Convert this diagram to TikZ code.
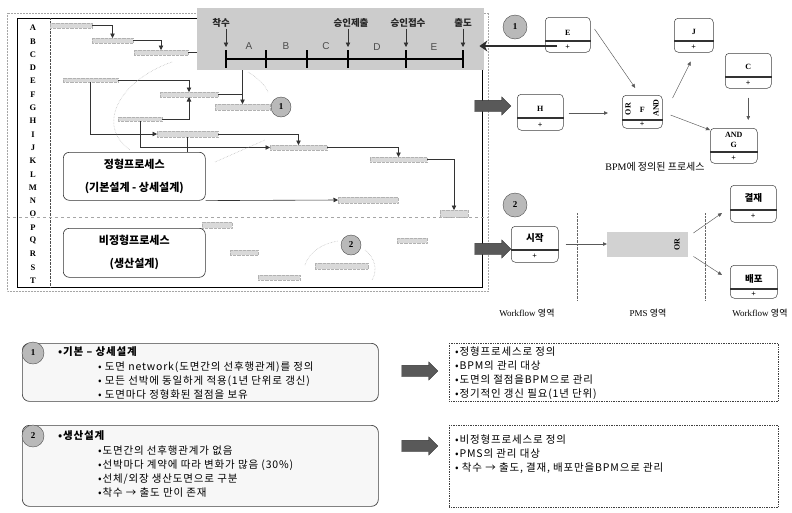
\documentclass[tikz,border=0pt]{standalone}
\usepackage{fontspec}
\setmainfont{Liberation Serif}
\newfontfamily\kr{Noto Sans CJK KR}
\newfontfamily\krw[LetterSpace=8]{Noto Sans CJK KR}
\newfontfamily\lsans{Liberation Sans}
\usetikzlibrary{arrows.meta,shapes.arrows,shapes.geometric}
\newcommand\gbar[5]{\node[bar, minimum width={#4-#2}, minimum height={#5-#3}] (#1) at (#2,#3) {};}
\newcommand\bpm[6]{%
  \node[bbox, minimum width={#4-#2}, minimum height={#5-#3}] (#1) at (#2,#3) {};
  \draw[divl] (#1.west |- 0,#6) -- (#1.east |- 0,#6);}
\begin{document}
\begin{tikzpicture}[x=1pt,y=-1pt,
  bar/.style={fill=gray!30, draw=gray!60, densely dotted, line width=0.3pt, inner sep=0pt, outer sep=0pt, anchor=north west},
  conn/.style={draw=black!80, line width=0.6pt, -{Triangle[length=4.5pt,width=4.5pt]}},
  plain/.style={draw=black!80, line width=0.6pt},
  letter/.style={font=\bfseries\fontsize{8.5}{8.5}\selectfont},
  tlab/.style={font=\kr\bfseries\fontsize{9.5}{10}\selectfont, inner sep=1pt, text=black!85},
  seg/.style={font=\lsans\fontsize{10}{10}\selectfont, text=black!70},
  bbox/.style={draw=black!75, line width=0.5pt, rounded corners=4pt, anchor=north west, inner sep=0pt, fill=white},
  divl/.style={line width=1.1pt, black!80},
  blab/.style={font=\bfseries\fontsize{8}{8}\selectfont, inner sep=0.5pt},
  klab/.style={font=\kr\bfseries\fontsize{9.5}{9.5}\selectfont, inner sep=0.5pt},
  circ/.style={circle, draw=black!70, fill=gray!55, inner sep=0pt, font=\bfseries\fontsize{9}{9}\selectfont},
  thinarr/.style={draw=black!65, line width=0.45pt, -{Triangle[length=4pt,width=3.5pt]}},
  thickarr/.style={draw=gray!35!black, line width=2.4pt, -{Stealth[length=8pt,width=11pt]}},
  blockarr/.style={single arrow, fill=gray!70!black, draw=black!80, line width=0.3pt, inner sep=5.5pt, single arrow head extend=3.5pt, minimum height=36pt},
  pbox/.style={draw=black!80, line width=0.6pt, rounded corners=6pt, anchor=north west, align=center, inner sep=0pt, font=\kr\bfseries\fontsize{11}{23}\selectfont},
  note/.style={font=\krw\fontsize{10.5}{11}\selectfont, anchor=west, inner sep=0pt},
  noteb/.style={font=\krw\bfseries\fontsize{10.5}{11}\selectfont, anchor=west, inner sep=0pt},
  area/.style={font=\fontsize{9}{9}\selectfont}
]
\useasboundingbox (0,0) rectangle (792,512);
\fill[white] (0,0) rectangle (792,512);

% ---------- left panel frames ----------
\draw[densely dotted, gray!70, line width=0.5pt] (7,13) rectangle (488,291);
\node[fill=gray!40, anchor=north west, minimum width=287, minimum height=62, inner sep=0pt] (tl) at (197,8) {};
\draw[line width=0.6pt] (197,18) -- (17,18) -- (17,287) -- (482,287) -- (482,70);
\draw[densely dotted, black!70] (50,18) -- (50,287);
\draw[dashed, gray!70] (7,217) -- (488,217);

\foreach \l [count=\i from 0] in {A,B,C,D,E,F,G,H,I,J,K,L,M,N,O,P,Q,R,S,T}
  \node[letter] (L\l) at (33,28+\i*13.3) {\l};

% ---------- timeline ----------
\foreach \n/\x in {0/226,1/266,2/307,3/348,4/406,5/463}{
  \coordinate (t\n) at (\x,59);
  \draw[line width=1.1pt] (\x,50) -- (\x,68);}
\draw[line width=1.1pt] (t0) -- (t5);
\node[tlab] (s0) at (221,23) {착수};
\node[tlab] (s3) at (351,23) {승인제출};
\node[tlab] (s4) at (408,23) {승인접수};
\node[tlab] (s5) at (463,23) {출도};
\draw[conn] (s0.south -| t0) -- ([yshift=12pt]t0);
\draw[conn] (s3.south -| t3) -- ([yshift=12pt]t3);
\draw[conn] (s4.south -| t4) -- ([yshift=12pt]t4);
\draw[conn] (s5.south -| t5) -- ([yshift=12pt]t5);
\node[seg] (sa) at (249,46) {A};
\node[seg] (sb) at (286,46) {B};
\node[seg] (sc) at (326,46) {C};
\node[seg] (sd) at (377,47) {D};
\node[seg] (se) at (434,47) {E};

% ---------- bars ----------
\gbar{b1}{50}{23}{92}{28}
\gbar{b2}{92}{38}{133}{43}
\gbar{b3}{134}{50}{188}{55}
\gbar{b4}{63}{78}{118}{82}
\gbar{b5}{160}{92}{218}{97}
\gbar{b6}{215}{104}{270}{110}
\gbar{b7}{118}{117}{162}{121}
\gbar{b8}{157}{131}{218}{137}
\gbar{b9}{270}{145}{327}{150}
\gbar{b10}{370}{157}{427}{162}
\gbar{b11}{440}{210}{468}{217}
\gbar{b12}{338}{197}{398}{203}
\gbar{b13}{202}{222}{232}{228}
\gbar{b14}{230}{250}{258}{255}
\gbar{b15}{258}{275}{300}{280}
\gbar{b16}{315}{263}{368}{269}
\gbar{b17}{397}{238}{427}{243}

\node[pbox, minimum width=142, minimum height=48] (P1) at (63,152) {정형프로세스\\(기본설계 - 상세설계)};
\node[pbox, minimum width=142, minimum height=49] (P2) at (63,228) {비정형프로세스\\(생산설계)};

\draw[conn] (b1.east) -| (b2.north);
\draw[conn] (b2.east) -| (b3.north);
\draw[plain] (b3.east) -- (b3.east -| tl.west);
\draw[conn] (b4.east) -| (b5.north);
\draw[conn] (b5.east) -| (b6.north);
\draw[plain] (tl.south -| b6.north) -- (b5.east -| b6.north);
\draw[conn] (b7.east) -| (b5.south);
\draw[conn] (b4.south) |- (b8.west);
\draw[conn] (b8.east) -| (b9.north);
\draw[conn] (b7.south) |- (b9.west);
\draw[conn] (b9.east) -| (b10.north);
\draw[conn] (b10.east) -| (b11.north);
\draw[plain] (b8.south) -- (b8.south |- P1.north);
\draw[conn] (P1.south east) -- (b12.west);

% faint dotted guides
\draw[gray!60, densely dotted, line width=0.5pt] (172,62) .. controls (120,80) and (95,125) .. (130,150);
\draw[gray!60, densely dotted, line width=0.5pt] (215,162) -- (265,140);
\draw[gray!60, densely dotted, line width=0.5pt] (248,72) .. controls (258,78) and (265,85) .. (268,92);
\draw[gray!60, densely dotted, line width=0.5pt] (305,265) .. controls (310,250) and (325,243) .. (338,241);
\draw[gray!60, densely dotted, line width=0.5pt] (365,250) .. controls (375,258) and (378,270) .. (372,280);

\node[circ, minimum size=20pt] (c1) at (281,107) {1};
\node[circ, minimum size=20pt] (c2) at (351,245) {2};

% ---------- right: BPM ----------
\node[circ, minimum size=24pt] (rc1) at (515,27) {1};
\node[circ, minimum size=24pt] (rc2) at (515,205) {2};
\node[blockarr] (ba1) at (490,106) {};
\node[blockarr] (ba2) at (490,249) {};

\bpm{E}{545}{17}{590}{52}{41}
\bpm{J}{674}{18}{713}{52}{41}
\bpm{C}{725}{53}{771}{88}{77}
\bpm{H}{517}{94}{563}{130}{118}
\bpm{F}{622}{95}{662}{128}{120}
\bpm{G}{710}{128}{757}{163}{152}
\node[blab] at (E.center |- 0,33) {E};  \node[blab] at (E.center |- 0,47) {+};
\node[blab] at (J.center |- 0,32) {J};  \node[blab] at (J.center |- 0,47) {+};
\node[blab] at (C.center |- 0,67) {C};  \node[blab] at (C.center |- 0,83) {+};
\node[blab] at (H.center |- 0,109) {H}; \node[blab] at (H.center |- 0,125) {+};
\node[blab] at (F.center |- 0,110) {F}; \node[blab] at (F.center |- 0,124) {+};
\node[blab, rotate=90] at (628,109) {OR};
\node[blab, rotate=90] at (656,108) {AND};
\node[blab] at (G.center |- 0,135) {AND}; \node[blab] at (G.center |- 0,145) {G};
\node[blab] at (G.center |- 0,158) {+};

\draw[thickarr] ([xshift=12pt]E.west |- 0,46) -- ([xshift=-5pt]tl.east |- 0,46);
\draw[thinarr] ([xshift=4pt]E.east |- 0,29) -- ([xshift=-7pt,yshift=7pt]F.north);
\draw[thinarr] ([xshift=10pt,yshift=-3pt]F.north east) -- ([xshift=-3pt,yshift=-9pt]J.south);
\draw[thinarr] ([xshift=5pt]H.east |- 0,113) -- ([xshift=-14pt]F.west |- 0,113);
\draw[thinarr] ([xshift=8pt]F.east |- 0,115) -- ([yshift=-2pt]G.west |- 0,128);
\draw[thinarr] ([yshift=-9pt]C.south) -- ([yshift=8pt]G.north -| C.south);
\node[font=\fontsize{10}{10}\selectfont] (bpmlab) at (655,167) {BPM{\kr 에 정의된 프로세스}};

% ---------- right: workflow ----------
\bpm{S}{511}{226}{558}{262}{250}
\bpm{K1}{730}{185}{776}{222}{210}
\bpm{K2}{730}{265}{777}{298}{289}
\node[klab] at (S.center |- 0,238) {시작};  \node[blab] at (S.center |- 0,256) {+};
\node[klab] at (K1.center |- 0,198) {결재}; \node[blab] at (K1.center |- 0,216) {+};
\node[klab] at (K2.center |- 0,279) {배포}; \node[blab] at (K2.center |- 0,294) {+};
\node[fill=gray!35, anchor=north west, minimum width=81, minimum height=25, inner sep=0pt] (pms) at (607,232) {};
\node[blab, rotate=90] at (677,244.5) {OR};
\draw[densely dotted, black!60] (577,213) -- (577,300);
\draw[densely dotted, black!60] (705,213) -- (705,300);
\draw[thinarr] ([xshift=7pt]S.east |- 0,244) -- (pms.west |- 0,244);
\draw[thinarr] ([xshift=5pt,yshift=-1pt]pms.north east) -- ([xshift=-8pt]K1.west |- 0,213);
\draw[thinarr] ([xshift=5pt,yshift=1pt]pms.south east) -- ([xshift=-8pt]K2.west |- 0,275);
\node[area] (w1) at (527,313) {Workflow {\kr 영역}};
\node[area] (w2) at (648,313) {PMS {\kr 영역}};
\node[area] (w3) at (760,313) {Workflow {\kr 영역}};

% ---------- bottom notes ----------
\node[draw=black!75, line width=0.7pt, rounded corners=7pt, fill=gray!6, anchor=north west, minimum width=356, minimum height=58, inner sep=0pt] (N1) at (22,343) {};
\node[circ, minimum size=22pt] (nc1) at (33,353) {1};
\node[noteb] at (58,352) {•기본 – 상세설계};
\node[note] at (98,367) {• 도면 network(도면간의 선후행관계)를 정의};
\node[note] at (98,381) {• 모든 선박에 동일하게 적용(1년 단위로 갱신)};
\node[note] at (98,395) {• 도면마다 정형화된 절점을 보유};

\node[draw=black!75, line width=0.7pt, rounded corners=7pt, fill=gray!6, anchor=north west, minimum width=356, minimum height=81, inner sep=0pt] (N2) at (22,425) {};
\node[circ, minimum size=22pt] (nc2) at (33,436) {2};
\node[noteb] at (58,436) {•생산설계};
\node[note] at (98,451) {•도면간의 선후행관계가 없음};
\node[note] at (98,465) {•선박마다 계약에 따라 변화가 많음 (30\%)};
\node[note] at (98,479) {•선체/외장 생산도면으로 구분};
\node[note] at (98,493) {•착수 → 출도 만이 존재};

\node[blockarr] (ba3) at (417,371) {};
\node[blockarr] (ba4) at (417,446) {};

\node[draw=black!75, densely dotted, line width=0.7pt, anchor=north west, minimum width=329, minimum height=58, inner sep=0pt] (R1) at (449,343) {};
\node[note] at (455,352) {•정형프로세스로 정의};
\node[note] at (455,366) {•BPM의 관리 대상};
\node[note] at (455,380) {•도면의 절점을BPM으로 관리};
\node[note] at (455,394) {•정기적인 갱신 필요(1년 단위)};

\node[draw=black!75, densely dotted, line width=0.7pt, anchor=north west, minimum width=329, minimum height=82, inner sep=0pt] (R2) at (449,425) {};
\node[note] at (455,440) {•비정형프로세스로 정의};
\node[note] at (455,454) {•PMS의 관리 대상};
\node[note] at (455,468) {• 착수 → 출도, 결재, 배포만을BPM으로 관리};
\end{tikzpicture}
\end{document}
